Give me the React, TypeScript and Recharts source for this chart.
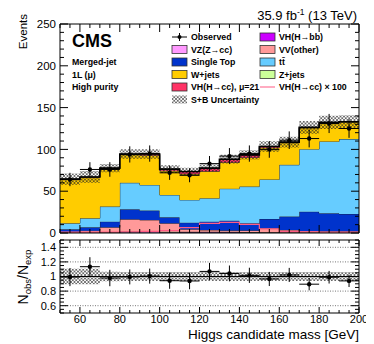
import React from 'react';
import { ComposedChart, Area, Line, Scatter, XAxis, YAxis, ErrorBar, ReferenceLine } from 'recharts';

const FONT = "'Liberation Sans', Arial, Helvetica, sans-serif";

// ---- data (10 GeV bins from 50 to 200 GeV) ----
const binEdges = [50, 60, 70, 80, 90, 100, 110, 120, 130, 140, 150, 160, 170, 180, 190, 200];
const binCenters = [55, 65, 75, 85, 95, 105, 115, 125, 135, 145, 155, 165, 175, 185, 195];

const vhBB = [0.0, 0.0, 0.1, 0.2, 0.3, 0.5, 0.8, 1.0, 1.0, 0.7, 0.4, 0.2, 0.1, 0.1, 0.0];
const vzCC = [0.1, 0.2, 0.4, 1.0, 1.0, 0.5, 0.3, 0.2, 0.1, 0.1, 0.1, 0.1, 0.1, 0.1, 0.1];
const zJets = [0.3, 0.3, 0.4, 0.5, 0.5, 0.4, 0.4, 0.4, 0.3, 0.3, 0.3, 0.3, 0.3, 0.2, 0.2];
const vvOther = [1.1, 2.3, 5.9, 14.7, 13.8, 10.2, 3.0, 2.0, 1.6, 1.9, 4.8, 3.0, 2.0, 1.6, 1.7];
const singleTop = [2.9, 4.0, 6.8, 12.0, 11.2, 7.2, 7.9, 10.0, 11.8, 8.6, 11.2, 16.0, 23.0, 21.6, 20.8];
const ttbar = [7.2, 10.8, 18.0, 31.6, 30.7, 26.7, 27.2, 28.0, 38.2, 43.9, 47.2, 61.9, 74.8, 85.9, 89.5];
const wJets = [52.6, 49.0, 45.4, 33.5, 35.5, 28.9, 30.9, 32.2, 31.5, 34.8, 38.0, 26.4, 25.5, 22.5, 20.5];
const vhCC21 = [0.3, 0.4, 0.6, 1.0, 1.5, 2.0, 3.0, 3.8, 3.8, 3.2, 1.5, 0.8, 0.5, 0.3, 0.2];
const vhCCx100 = [1.0, 1.0, 1.2, 1.5, 2.0, 3.0, 6.4, 11.6, 12.8, 10.4, 5.0, 2.0, 1.5, 1.2, 1.0];
const observed = [64, 76, 76, 94, 95, 72, 69, 83, 92, 95, 100, 111, 113, 131, 125];
const relUnc = [0.105, 0.105, 0.065, 0.06, 0.06, 0.06, 0.06, 0.06, 0.06, 0.06, 0.06, 0.06, 0.06, 0.06, 0.06];

const stackSeries = [
  { key: 'vhBB', values: vhBB, color: '#CC00FF' },
  { key: 'vzCC', values: vzCC, color: '#FF99FF' },
  { key: 'zJets', values: zJets, color: '#CCFF99' },
  { key: 'vvOther', values: vvOther, color: '#FF9999' },
  { key: 'singleTop', values: singleTop, color: '#0033CC' },
  { key: 'ttbar', values: ttbar, color: '#66CCFF' },
  { key: 'wJets', values: wJets, color: '#FFCC00' },
  { key: 'vhCC21', values: vhCC21, color: '#FF3366' },
];

// tick labels
const xMajors = [60, 80, 100, 120, 140, 160, 180, 200];
const yMainMajors = [0, 50, 100, 150, 200, 250];
const yRatioMajors = [0.6, 0.8, 1, 1.2, 1.4];

const range = (a: number, b: number, s: number) => {
  const out: number[] = [];
  for (let v = a; v <= b + 1e-9; v += s) out.push(Math.round(v * 1000) / 1000);
  return out;
};
const xTicks = range(50, 200, 5);
const yMainTicks = range(0, 250, 10);
const yRatioTicks = range(0.5, 1.5, 0.05);

const nb = binCenters.length;
const totals = binCenters.map((_, i) => stackSeries.reduce((s, ser) => s + ser.values[i], 0));

const histData = binEdges.map((x, i) => {
  const j = Math.min(i, nb - 1);
  const row: any = { x };
  stackSeries.forEach((s) => (row[s.key] = s.values[j]));
  const t = totals[j];
  row.total = t;
  row.band = [t * (1 - relUnc[j]), t * (1 + relUnc[j])];
  row.rband = [1 - relUnc[j], 1 + relUnc[j]];
  row.x100 = vhCCx100[j];
  return row;
});

const obsData = binCenters.map((x, i) => ({
  x,
  y: observed[i],
  ey: Math.sqrt(observed[i]),
  ex: 5,
  r: observed[i] / totals[i],
  er: Math.sqrt(observed[i]) / totals[i],
}));

type Orient = 'bottom' | 'top' | 'left' | 'right';
const makeTick = (
  orient: Orient,
  majors: number[],
  majLen: number,
  minLen: number,
  label?: { fmt: (v: number) => string; size: number; off: number }
) => (props: any) => {
  const { x, y, payload } = props;
  const v = payload.value;
  const major = majors.some((m) => Math.abs(m - v) < 1e-6);
  const len = major ? majLen : minLen;
  let x2 = x;
  let y2 = y;
  if (orient === 'bottom') y2 = y - len;
  else if (orient === 'top') y2 = y + len;
  else if (orient === 'left') x2 = x + len;
  else x2 = x - len;
  let txt: any = null;
  if (label && major) {
    if (orient === 'bottom')
      txt = (
        <text x={x} y={y + label.off} textAnchor="middle" fontSize={label.size} fontFamily={FONT} fill="#000">
          {label.fmt(v)}
        </text>
      );
    else
      txt = (
        <text x={x - label.off} y={y} dy="0.36em" textAnchor="end" fontSize={label.size} fontFamily={FONT} fill="#000">
          {label.fmt(v)}
        </text>
      );
  }
  return (
    <g>
      <line x1={x} y1={y} x2={x2} y2={y2} stroke="#000" strokeWidth={1} />
      {txt}
    </g>
  );
};

const dotShape = (p: any) => <circle cx={p.cx} cy={p.cy} r={2.2} fill="#000" />;

const axisCommon = {
  tickSize: 0,
  tickMargin: 0,
  tickLine: false,
  interval: 0 as const,
  axisLine: { stroke: '#000', strokeWidth: 1 },
  allowDataOverflow: true,
};

const legendCol1 = [
  { label: 'Observed', kind: 'obs', color: '#000' },
  { label: 'VZ(Z\u2192cc)', kind: 'box', color: '#FF99FF' },
  { label: 'Single Top', kind: 'box', color: '#0033CC' },
  { label: 'W+jets', kind: 'box', color: '#FFCC00' },
  { label: 'VH(H\u2192cc), \u03bc=21', kind: 'box', color: '#FF3366' },
  { label: 'S+B Uncertainty', kind: 'hatch', color: '#000' },
];
const legendCol2 = [
  { label: 'VH(H\u2192bb)', kind: 'box', color: '#CC00FF' },
  { label: 'VV(other)', kind: 'box', color: '#FF9999' },
  { label: 't\u0074\u0304', kind: 'box', color: '#66CCFF' },
  { label: 'Z+jets', kind: 'box', color: '#CCFF99' },
  { label: 'VH(H\u2192cc)  \u00d7 100', kind: 'line', color: '#FF7F9F' },
];

const infoLines = ['Merged-jet', '1L (\u03bc)', 'High purity'];

const LegendEntry = ({ item, x, y }: any) => {
  let sym: any;
  if (item.kind === 'obs')
    sym = (
      <g>
        <line x1={x} x2={x + 15} y1={y} y2={y} stroke="#000" strokeWidth={1} />
        <line x1={x + 7.5} x2={x + 7.5} y1={y - 4} y2={y + 4} stroke="#000" strokeWidth={1} />
        <circle cx={x + 7.5} cy={y} r={2} fill="#000" />
      </g>
    );
  else if (item.kind === 'line') sym = <line x1={x} x2={x + 15} y1={y} y2={y} stroke={item.color} strokeWidth={1.3} />;
  else if (item.kind === 'hatch') sym = <rect x={x} y={y - 4} width={15} height={8} fill="url(#sbHatch)" stroke="none" />;
  else sym = <rect x={x} y={y - 4} width={15} height={8} fill={item.color} stroke="#333" strokeWidth={0.8} />;
  return (
    <g>
      {sym}
      <text x={x + 19} y={y + 3.2} fontSize={8.8} fontWeight="bold" fontFamily={FONT} fill="#000">
        {item.label}
      </text>
    </g>
  );
};

export default function App() {
  const rowY = (i: number) => 29 + i * 12.5;
  return (
    <div style={{ position: 'relative', width: 366, height: 336, fontFamily: FONT }}>
      <svg width={0} height={0} style={{ position: 'absolute' }}>
        <defs>
          <pattern id="sbHatch" width={3.5} height={3.5} patternUnits="userSpaceOnUse">
            <path d="M0,0 L3.5,3.5 M3.5,0 L0,3.5" stroke="#222" strokeWidth={0.6} />
          </pattern>
        </defs>
      </svg>

      <div style={{ position: 'absolute', left: 0, top: 0 }}>
        <ComposedChart width={366} height={240} data={histData} margin={{ top: 11, right: 10, bottom: 10, left: 47 }}>
          <XAxis dataKey="x" type="number" domain={[50, 200]} ticks={xTicks} orientation="bottom" height={5} {...axisCommon} tick={makeTick('bottom', xMajors, 8, 4)} />
          <XAxis xAxisId="t" dataKey="x" type="number" domain={[50, 200]} ticks={xTicks} orientation="top" height={5} {...axisCommon} tick={makeTick('top', xMajors, 8, 4)} />
          <YAxis type="number" domain={[0, 250]} ticks={yMainTicks} orientation="left" width={5} {...axisCommon} tick={makeTick('left', yMainMajors, 8, 4, { fmt: (v) => String(v), size: 11.5, off: 4 })} />
          <YAxis yAxisId="r" type="number" domain={[0, 250]} ticks={yMainTicks} orientation="right" width={5} {...axisCommon} tick={makeTick('right', yMainMajors, 8, 4)} />
          {stackSeries.map((s) => (
            <Area key={s.key} type="stepAfter" dataKey={s.key} stackId="mc" fill={s.color} fillOpacity={1} stroke="#1a1a1a" strokeWidth={0.8} dot={false} activeDot={false} isAnimationActive={false} />
          ))}
          <Line type="stepAfter" dataKey="total" stroke="#000" strokeWidth={1.6} dot={false} activeDot={false} isAnimationActive={false} />
          <Area type="stepAfter" dataKey="band" fill="url(#sbHatch)" fillOpacity={1} stroke="none" dot={false} activeDot={false} isAnimationActive={false} />
          <Line type="stepAfter" dataKey="x100" stroke="#FF5C85" strokeWidth={1.2} dot={false} activeDot={false} isAnimationActive={false} />
          <Scatter data={obsData} dataKey="y" shape={dotShape} isAnimationActive={false}>
            <ErrorBar dataKey="ey" direction="y" width={0} stroke="#000" strokeWidth={1} />
            <ErrorBar dataKey="ex" direction="x" width={0} stroke="#000" strokeWidth={1} />
          </Scatter>
        </ComposedChart>
      </div>

      <div style={{ position: 'absolute', left: 0, top: 225 }}>
        <ComposedChart width={366} height={111} data={histData} margin={{ top: 2, right: 10, bottom: 26, left: 47 }}>
          <XAxis dataKey="x" type="number" domain={[50, 200]} ticks={xTicks} orientation="bottom" height={5} {...axisCommon} tick={makeTick('bottom', xMajors, 6, 3, { fmt: (v) => String(v), size: 11, off: 10 })} />
          <XAxis xAxisId="t" dataKey="x" type="number" domain={[50, 200]} ticks={xTicks} orientation="top" height={5} {...axisCommon} tick={makeTick('top', xMajors, 6, 3)} />
          <YAxis type="number" domain={[0.5, 1.5]} ticks={yRatioTicks} orientation="left" width={5} {...axisCommon} tick={makeTick('left', yRatioMajors, 8, 4, { fmt: (v) => (v === 1 ? '1' : v.toFixed(1)), size: 11, off: 4 })} />
          <YAxis yAxisId="r" type="number" domain={[0.5, 1.5]} ticks={yRatioTicks} orientation="right" width={5} {...axisCommon} tick={makeTick('right', yRatioMajors, 8, 4)} />
          {[0.6, 0.8, 1.2, 1.4].map((v) => (
            <ReferenceLine key={v} y={v} stroke="#777" strokeDasharray="1 1.5" strokeWidth={1} />
          ))}
          <Area type="stepAfter" dataKey="rband" fill="url(#sbHatch)" fillOpacity={1} stroke="none" dot={false} activeDot={false} isAnimationActive={false} />
          <ReferenceLine y={1} stroke="#000" strokeWidth={1.2} />
          <Scatter data={obsData} dataKey="r" shape={dotShape} isAnimationActive={false}>
            <ErrorBar dataKey="er" direction="y" width={0} stroke="#000" strokeWidth={1} />
            <ErrorBar dataKey="ex" direction="x" width={0} stroke="#000" strokeWidth={1} />
          </Scatter>
        </ComposedChart>
      </div>

      <svg width={366} height={336} style={{ position: 'absolute', left: 0, top: 0, pointerEvents: 'none' }}>
        <text x={349} y={12} textAnchor="end" fontSize={13} fontFamily={FONT} fill="#000">
          35.9 fb<tspan fontSize={8.5} dy={-5}>-1</tspan>
          <tspan dy={5}> (13 TeV)</tspan>
        </text>
        <text transform="translate(19,6) rotate(-90)" textAnchor="end" fontSize={11.5} fontFamily={FONT} fill="#000">
          Events
        </text>
        <text transform="translate(20,269) rotate(-90)" textAnchor="middle" fontSize={14} fontFamily={FONT} fill="#000">
          N<tspan fontSize={9.5} dy={3}>obs</tspan>
          <tspan dy={-3}>/N</tspan>
          <tspan fontSize={9.5} dy={3}>exp</tspan>
        </text>
        <text x={351} y={331} textAnchor="end" fontSize={13.5} fontFamily={FONT} fill="#000">
          Higgs candidate mass [GeV]
        </text>
        <text x={64} y={39} fontSize={18} fontWeight="bold" fontFamily={FONT} fill="#000">CMS</text>
        {infoLines.map((t, i) => (
          <text key={t} x={64} y={rowY(2 + i) + 3.2} fontSize={8.8} fontWeight="bold" fontFamily={FONT} fill="#000">
            {t}
          </text>
        ))}
        {legendCol1.map((it, i) => (
          <LegendEntry key={it.label} item={it} x={164} y={rowY(i)} />
        ))}
        {legendCol2.map((it, i) => (
          <LegendEntry key={it.label} item={it} x={252} y={rowY(i)} />
        ))}
      </svg>
    </div>
  );
}
